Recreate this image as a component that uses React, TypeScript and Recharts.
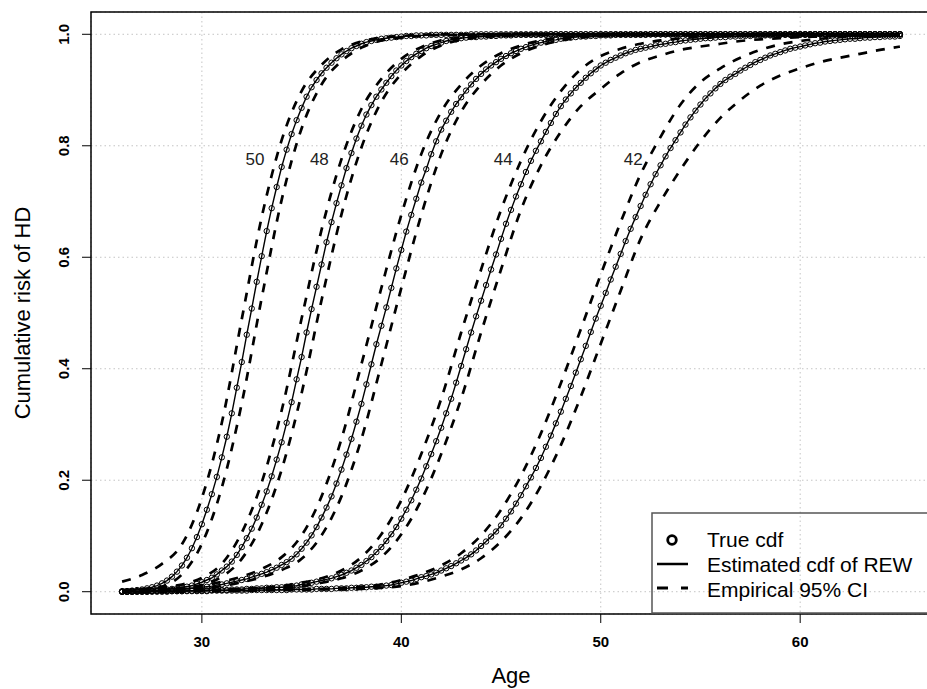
import { JSX } from "react";
import {
  CartesianGrid,
  Line,
  LineChart,
  ReferenceArea,
  ReferenceDot,
  XAxis,
  YAxis,
} from "recharts";

const FONT = "'Liberation Sans', Arial, Helvetica, sans-serif";

// age grid of the true cdf points (every 0.25 year from 26 to 65)
const ages: number[] = Array.from({ length: 157 }, (_, i) => 26 + i * 0.25);

// age grid of the empirical CI curves
const ciAges = [
  26, 27, 28, 29, 30, 31, 32, 33, 34, 35, 36, 37, 38, 39, 40, 41, 42, 43, 44, 45,
  46, 47, 48, 49, 50, 51, 52, 53, 54, 55, 56, 57, 58, 59, 60, 61, 62, 63, 64, 65,
];

// cumulative risk, one row = one year (4 quarter points)
const cdf50 = [
  0.001, 0.001, 0.002, 0.003,
  0.004, 0.006, 0.008, 0.011,
  0.015, 0.020, 0.027, 0.036,
  0.047, 0.061, 0.078, 0.098,
  0.121, 0.147, 0.175, 0.206,
  0.241, 0.278, 0.320, 0.366,
  0.412, 0.461, 0.508, 0.556,
  0.602, 0.647, 0.688, 0.726,
  0.762, 0.793, 0.821, 0.846,
  0.868, 0.888, 0.905, 0.918,
  0.930, 0.940, 0.949, 0.957,
  0.964, 0.970, 0.975, 0.979,
  0.983, 0.986, 0.988, 0.990,
  0.992, 0.993, 0.994, 0.995,
  0.996, 0.997, 0.997, 0.998,
  0.998, 0.998, 0.999, 0.999,
  0.999, 0.999, 0.999, 0.999,
  0.999, 0.999, 1, 1,
  1, 1, 1, 1, 1, 1, 1, 1, 1, 1, 1, 1, 1, 1, 1, 1, 1, 1, 1, 1, 1, 1, 1, 1,
  1, 1, 1, 1, 1, 1, 1, 1, 1, 1, 1, 1, 1, 1, 1, 1, 1, 1, 1, 1, 1, 1, 1, 1,
  1, 1, 1, 1, 1, 1, 1, 1, 1, 1, 1, 1, 1, 1, 1, 1, 1, 1, 1, 1, 1, 1, 1, 1,
  1, 1, 1, 1, 1, 1, 1, 1, 1, 1, 1, 1,
  1,
];

const cdf48 = [
  0.000, 0.000, 0.001, 0.001,
  0.001, 0.001, 0.002, 0.002,
  0.003, 0.004, 0.005, 0.006,
  0.007, 0.009, 0.011, 0.014,
  0.017, 0.021, 0.025, 0.031,
  0.038, 0.045, 0.054, 0.066,
  0.080, 0.096, 0.113, 0.133,
  0.156, 0.180, 0.207, 0.237,
  0.268, 0.303, 0.340, 0.381,
  0.421, 0.465, 0.507, 0.547,
  0.587, 0.627, 0.663, 0.697,
  0.729, 0.760, 0.787, 0.813,
  0.836, 0.856, 0.873, 0.888,
  0.901, 0.913, 0.925, 0.935,
  0.944, 0.952, 0.959, 0.965,
  0.970, 0.975, 0.979, 0.982,
  0.985, 0.988, 0.990, 0.991,
  0.993, 0.994, 0.995, 0.995,
  0.996, 0.996, 0.997, 0.997,
  0.998, 0.998, 0.998, 0.999,
  0.999, 0.999, 0.999, 0.999,
  0.999, 0.999, 1, 1,
  1, 1, 1, 1, 1, 1, 1, 1, 1, 1, 1, 1, 1, 1, 1, 1, 1, 1, 1, 1, 1, 1, 1, 1,
  1, 1, 1, 1, 1, 1, 1, 1, 1, 1, 1, 1, 1, 1, 1, 1, 1, 1, 1, 1, 1, 1, 1, 1,
  1, 1, 1, 1, 1, 1, 1, 1, 1, 1, 1, 1, 1, 1, 1, 1, 1, 1, 1, 1,
  1,
];

const cdf46 = [
  0.000, 0.000, 0.000, 0.001,
  0.001, 0.001, 0.001, 0.002,
  0.002, 0.002, 0.003, 0.003,
  0.004, 0.005, 0.006, 0.007,
  0.008, 0.009, 0.010, 0.012,
  0.013, 0.015, 0.017, 0.019,
  0.021, 0.023, 0.026, 0.029,
  0.032, 0.035, 0.039, 0.043,
  0.048, 0.053, 0.059, 0.067,
  0.077, 0.088, 0.101, 0.116,
  0.133, 0.151, 0.171, 0.194,
  0.219, 0.246, 0.274, 0.305,
  0.337, 0.372, 0.408, 0.444,
  0.477, 0.510, 0.545, 0.580,
  0.613, 0.646, 0.676, 0.705,
  0.734, 0.758, 0.785, 0.808,
  0.829, 0.845, 0.861, 0.875,
  0.887, 0.899, 0.910, 0.920,
  0.929, 0.937, 0.944, 0.950,
  0.956, 0.961, 0.966, 0.970,
  0.974, 0.977, 0.980, 0.983,
  0.985, 0.987, 0.989, 0.990,
  0.992, 0.993, 0.994, 0.995,
  0.996, 0.996, 0.997, 0.997,
  0.998, 0.998, 0.998, 0.999,
  0.999, 0.999, 0.999, 0.999,
  0.999, 0.999, 1, 1,
  1, 1, 1, 1, 1, 1, 1, 1, 1, 1, 1, 1, 1, 1, 1, 1, 1, 1, 1, 1, 1, 1, 1, 1,
  1, 1, 1, 1, 1, 1, 1, 1, 1, 1, 1, 1, 1, 1, 1, 1, 1, 1, 1, 1, 1, 1, 1, 1,
  1,
];

const cdf44 = [
  0.000, 0.000, 0.000, 0.000,
  0.000, 0.000, 0.001, 0.001,
  0.001, 0.001, 0.001, 0.001,
  0.001, 0.002, 0.002, 0.002,
  0.002, 0.002, 0.003, 0.003,
  0.003, 0.003, 0.004, 0.004,
  0.004, 0.005, 0.005, 0.006,
  0.006, 0.007, 0.007, 0.008,
  0.008, 0.009, 0.010, 0.011,
  0.013, 0.014, 0.016, 0.018,
  0.020, 0.022, 0.024, 0.027,
  0.030, 0.034, 0.038, 0.043,
  0.048, 0.055, 0.062, 0.071,
  0.080, 0.091, 0.103, 0.116,
  0.131, 0.147, 0.164, 0.183,
  0.203, 0.225, 0.247, 0.270,
  0.294, 0.320, 0.346, 0.375,
  0.405, 0.435, 0.465, 0.494,
  0.522, 0.550, 0.578, 0.605,
  0.633, 0.660, 0.685, 0.709,
  0.731, 0.753, 0.773, 0.791,
  0.808, 0.825, 0.841, 0.857,
  0.871, 0.883, 0.894, 0.904,
  0.913, 0.922, 0.930, 0.937,
  0.944, 0.949, 0.954, 0.958,
  0.962, 0.966, 0.969, 0.972,
  0.974, 0.976, 0.978, 0.980,
  0.982, 0.983, 0.985, 0.986,
  0.988, 0.989, 0.990, 0.991,
  0.992, 0.993, 0.993, 0.994,
  0.995, 0.995, 0.996, 0.996,
  0.997, 0.997, 0.997, 0.998,
  0.998, 0.998, 0.998, 0.999,
  0.999, 0.999, 0.999, 0.999,
  0.999, 0.999, 0.999, 1,
  1, 1, 1, 1, 1, 1, 1, 1, 1, 1, 1, 1, 1, 1, 1, 1,
  1,
];

const cdf42 = [
  0.000, 0.000, 0.000, 0.000,
  0.000, 0.000, 0.000, 0.000,
  0.000, 0.000, 0.001, 0.001,
  0.001, 0.001, 0.001, 0.001,
  0.001, 0.001, 0.002, 0.002,
  0.002, 0.002, 0.002, 0.002,
  0.002, 0.002, 0.003, 0.003,
  0.003, 0.003, 0.003, 0.003,
  0.003, 0.003, 0.004, 0.004,
  0.004, 0.004, 0.004, 0.005,
  0.005, 0.005, 0.005, 0.006,
  0.006, 0.006, 0.007, 0.007,
  0.008, 0.008, 0.009, 0.009,
  0.010, 0.011, 0.012, 0.014,
  0.016, 0.018, 0.020, 0.023,
  0.026, 0.028, 0.031, 0.034,
  0.038, 0.042, 0.046, 0.051,
  0.056, 0.061, 0.067, 0.074,
  0.082, 0.090, 0.099, 0.108,
  0.119, 0.131, 0.144, 0.158,
  0.173, 0.189, 0.205, 0.222,
  0.240, 0.260, 0.280, 0.302,
  0.323, 0.346, 0.369, 0.393,
  0.417, 0.441, 0.466, 0.490,
  0.513, 0.536, 0.560, 0.583,
  0.606, 0.629, 0.651, 0.672,
  0.692, 0.712, 0.731, 0.749,
  0.765, 0.781, 0.796, 0.810,
  0.824, 0.838, 0.851, 0.863,
  0.874, 0.885, 0.894, 0.903,
  0.911, 0.918, 0.924, 0.929,
  0.935, 0.940, 0.945, 0.950,
  0.954, 0.958, 0.962, 0.965,
  0.968, 0.971, 0.974, 0.976,
  0.978, 0.980, 0.982, 0.984,
  0.985, 0.987, 0.988, 0.989,
  0.990, 0.991, 0.992, 0.992,
  0.993, 0.994, 0.994, 0.995,
  0.995, 0.996, 0.996, 0.996,
  0.997,
];

// empirical 95% CI bounds, on ciAges
const lower50 = [
  0.000, 0.002, 0.009, 0.031, 0.086, 0.187, 0.338, 0.527, 0.703, 0.831,
  0.910, 0.952, 0.976, 0.989, 0.994, 0.997, 0.999, 0.999, 1, 1,
  1, 1, 1, 1, 1, 1, 1, 1, 1, 1, 1, 1, 1, 1, 1, 1, 1, 1, 1, 1,
];
const upper50 = [
  0.018, 0.030, 0.050, 0.085, 0.168, 0.303, 0.489, 0.672, 0.810, 0.898,
  0.945, 0.973, 0.987, 0.994, 0.997, 0.999, 1, 1, 1, 1,
  1, 1, 1, 1, 1, 1, 1, 1, 1, 1, 1, 1, 1, 1, 1, 1, 1, 1, 1, 1,
];
const lower48 = [
  0.000, 0.001, 0.002, 0.005, 0.012, 0.027, 0.059, 0.121, 0.219, 0.356,
  0.523, 0.677, 0.797, 0.879, 0.929, 0.961, 0.980, 0.990, 0.995, 0.997,
  0.999, 0.999, 1, 1, 1, 1, 1, 1, 1, 1, 1, 1, 1, 1, 1, 1, 1, 1, 1, 1,
];
const upper48 = [
  0.003, 0.005, 0.008, 0.013, 0.025, 0.050, 0.106, 0.196, 0.325, 0.490,
  0.649, 0.776, 0.866, 0.920, 0.956, 0.977, 0.989, 0.994, 0.997, 0.998,
  0.999, 1, 1, 1, 1, 1, 1, 1, 1, 1, 1, 1, 1, 1, 1, 1, 1, 1, 1, 1,
];
const lower46 = [
  0.000, 0.000, 0.001, 0.003, 0.006, 0.010, 0.017, 0.026, 0.039, 0.059,
  0.101, 0.171, 0.274, 0.408, 0.545, 0.676, 0.785, 0.861, 0.910, 0.944,
  0.966, 0.980, 0.989, 0.994, 0.997, 0.998, 0.999, 1, 1, 1,
  1, 1, 1, 1, 1, 1, 1, 1, 1, 1,
];
const upper46 = [
  0.001, 0.002, 0.004, 0.007, 0.011, 0.018, 0.027, 0.041, 0.062, 0.101,
  0.171, 0.274, 0.408, 0.545, 0.676, 0.785, 0.861, 0.910, 0.944, 0.966,
  0.980, 0.989, 0.994, 0.997, 0.998, 0.999, 1, 1, 1, 1,
  1, 1, 1, 1, 1, 1, 1, 1, 1, 1,
];
const lower44 = [
  0.000, 0.000, 0.001, 0.001, 0.002, 0.003, 0.004, 0.005, 0.007, 0.010,
  0.016, 0.024, 0.038, 0.062, 0.103, 0.164, 0.247, 0.346, 0.465, 0.578,
  0.685, 0.765, 0.825, 0.871, 0.902, 0.930, 0.950, 0.962, 0.972, 0.978,
  0.983, 0.988, 0.991, 0.993, 0.995, 0.996, 0.997, 0.998, 0.998, 0.999,
];
const upper44 = [
  0.001, 0.001, 0.002, 0.002, 0.003, 0.004, 0.005, 0.007, 0.010, 0.016,
  0.024, 0.038, 0.062, 0.103, 0.164, 0.247, 0.346, 0.465, 0.578, 0.685,
  0.773, 0.844, 0.898, 0.937, 0.961, 0.974, 0.983, 0.989, 0.993, 0.995,
  0.997, 0.998, 0.999, 1, 1, 1, 1, 1, 1, 1,
];
const lower42 = [
  0.000, 0.000, 0.000, 0.000, 0.001, 0.001, 0.002, 0.002, 0.003, 0.003,
  0.004, 0.004, 0.005, 0.007, 0.010, 0.017, 0.027, 0.040, 0.060, 0.090,
  0.132, 0.190, 0.263, 0.350, 0.445, 0.540, 0.633, 0.700, 0.757, 0.808,
  0.850, 0.882, 0.908, 0.926, 0.939, 0.950, 0.958, 0.965, 0.972, 0.978,
];
const upper42 = [
  0.000, 0.001, 0.001, 0.001, 0.002, 0.002, 0.003, 0.003, 0.004, 0.004,
  0.005, 0.007, 0.009, 0.013, 0.021, 0.032, 0.047, 0.069, 0.101, 0.147,
  0.208, 0.284, 0.374, 0.471, 0.569, 0.663, 0.749, 0.816, 0.874, 0.914,
  0.939, 0.958, 0.972, 0.982, 0.988, 0.992, 0.995, 0.997, 0.998, 0.999,
];

// curve labels (age at onset group) and where they sit
const curveLabels = ["50", "48", "46", "44", "42"];
const labelAges = [32.66, 35.89, 39.9, 45.11, 51.63];
const labelLevel = 0.776;

const xTicks = [30, 40, 50, 60];
const yTicks = [0, 0.2, 0.4, 0.6, 0.8, 1];
const xDomain: [number, number] = [24.44, 66.56];
const yDomain: [number, number] = [-0.04, 1.04];

const curves = [
  { name: "50", cdf: cdf50, lower: lower50, upper: upper50 },
  { name: "48", cdf: cdf48, lower: lower48, upper: upper48 },
  { name: "46", cdf: cdf46, lower: lower46, upper: upper46 },
  { name: "44", cdf: cdf44, lower: lower44, upper: upper44 },
  { name: "42", cdf: cdf42, lower: lower42, upper: upper42 },
].map((c) => ({
  name: c.name,
  points: ages.map((age, i) => ({ age, value: c.cdf[i] })),
  lowerPts: ciAges.map((age, i) => ({ age, value: c.lower[i] })),
  upperPts: ciAges.map((age, i) => ({ age, value: c.upper[i] })),
}));

const XTick = (props: any): JSX.Element => {
  const { x, y, payload } = props;
  return (
    <text
      x={x}
      y={y + 24}
      textAnchor="middle"
      fontSize={15}
      fontWeight="bold"
      fontFamily={FONT}
      fill="#000"
    >
      {payload.value}
    </text>
  );
};

const YTick = (props: any): JSX.Element => {
  const { x, y, payload } = props;
  const tx = x - 13;
  return (
    <text
      x={tx}
      y={y}
      transform={`rotate(-90 ${tx} ${y})`}
      textAnchor="middle"
      fontSize={15}
      fontWeight="bold"
      fontFamily={FONT}
      fill="#000"
    >
      {Number(payload.value).toFixed(1)}
    </text>
  );
};

const XTitle = (props: any): JSX.Element => {
  const { viewBox } = props;
  return (
    <text
      x={viewBox.x + viewBox.width / 2}
      y={viewBox.y + 69}
      textAnchor="middle"
      fontSize={22}
      fontFamily={FONT}
      fill="#000"
    >
      Age
    </text>
  );
};

const YTitle = (props: any): JSX.Element => {
  const { viewBox } = props;
  const cy = viewBox.y + viewBox.height / 2;
  return (
    <text
      x={30}
      y={cy}
      transform={`rotate(-90 30 ${cy})`}
      textAnchor="middle"
      fontSize={22}
      fontFamily={FONT}
      fill="#000"
    >
      Cumulative risk of HD
    </text>
  );
};

const LegendBox = (): JSX.Element => (
  <svg
    width={927}
    height={689}
    style={{ position: "absolute", left: 0, top: 0, pointerEvents: "none" }}
  >
    <rect x={652} y={513} width={300} height={100} fill="none" stroke="#555" strokeWidth={1.5} />
    <circle cx={672} cy={540} r={4.3} fill="none" stroke="#000" strokeWidth={2.8} />
    <line x1={657} y1={564} x2={688} y2={564} stroke="#000" strokeWidth={2.5} />
    <line x1={657} y1={588} x2={688} y2={588} stroke="#000" strokeWidth={3} strokeDasharray="11 13" />
    <g fontFamily={FONT} fontSize={21} fill="#000">
      <text x={707} y={547}>True cdf</text>
      <text x={707} y={572}>Estimated cdf of REW</text>
      <text x={707} y={597}>Empirical 95% CI</text>
    </g>
  </svg>
);

export default function App(): JSX.Element {
  return (
    <div
      style={{
        position: "relative",
        width: 927,
        height: 689,
        overflow: "hidden",
        background: "#fff",
      }}
    >
      <style>{"body{margin:0;}"}</style>
      <LineChart
        width={940}
        height={689}
        margin={{ top: 12, right: 9, bottom: 0, left: 0 }}
      >
        <CartesianGrid stroke="#c4c4c4" strokeDasharray="1.5 3" />
        <XAxis
          dataKey="age"
          type="number"
          domain={xDomain}
          ticks={xTicks}
          allowDataOverflow
          height={75}
          axisLine={false}
          tickLine={{ stroke: "#000", strokeWidth: 1 }}
          tickSize={9}
          tickMargin={0}
          tick={<XTick />}
          label={XTitle}
        />
        <YAxis
          type="number"
          domain={yDomain}
          ticks={yTicks}
          allowDataOverflow
          width={91}
          axisLine={false}
          tickLine={{ stroke: "#000", strokeWidth: 1 }}
          tickSize={9}
          tickMargin={0}
          tick={<YTick />}
          label={YTitle}
        />
        <ReferenceArea
          x1={xDomain[0]}
          x2={xDomain[1]}
          y1={yDomain[0]}
          y2={yDomain[1]}
          fill="none"
          fillOpacity={0}
          stroke="#000"
          strokeWidth={1.5}
        />
        {curves.map((c) => [
          <Line
            key={`lo-${c.name}`}
            data={c.lowerPts}
            dataKey="value"
            type="monotone"
            stroke="#000"
            strokeWidth={2.7}
            strokeDasharray="9 9"
            dot={false}
            activeDot={false}
            isAnimationActive={false}
          />,
          <Line
            key={`up-${c.name}`}
            data={c.upperPts}
            dataKey="value"
            type="monotone"
            stroke="#000"
            strokeWidth={2.7}
            strokeDasharray="9 9"
            dot={false}
            activeDot={false}
            isAnimationActive={false}
          />,
          <Line
            key={`est-${c.name}`}
            data={c.points}
            dataKey="value"
            type="linear"
            stroke="#000"
            strokeWidth={1.4}
            dot={false}
            activeDot={false}
            isAnimationActive={false}
          />,
          <Line
            key={`true-${c.name}`}
            data={c.points}
            dataKey="value"
            type="linear"
            stroke="none"
            dot={{ r: 2.7, stroke: "#000", strokeWidth: 1, fill: "none" }}
            activeDot={false}
            isAnimationActive={false}
          />,
        ])}
        {curveLabels.map((lab, i) => (
          <ReferenceDot
            key={lab}
            x={labelAges[i]}
            y={labelLevel}
            r={0}
            fill="none"
            stroke="none"
            label={{
              value: lab,
              position: "center",
              fill: "#222",
              fontSize: 17,
              fontFamily: FONT,
            }}
          />
        ))}
      </LineChart>
      <LegendBox />
    </div>
  );
}
